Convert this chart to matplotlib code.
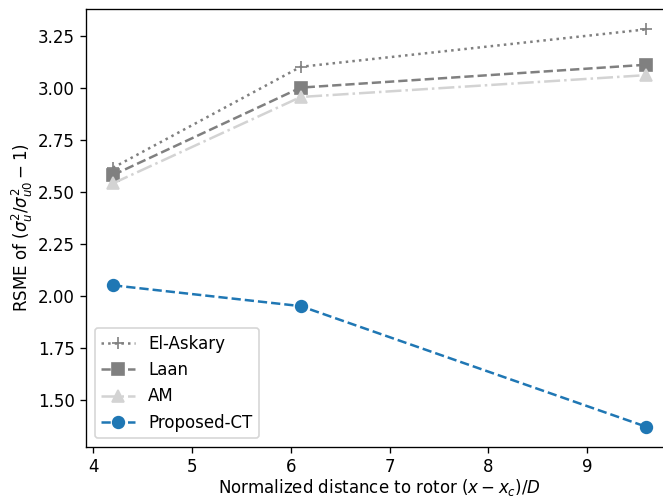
import numpy as np
import matplotlib.pyplot as plt

# downstream positions and RMSE for each turbulence model
dist = [4.2, 6.1, 9.6]
el_askary = [2.615, 3.10, 3.28]
laan = [2.58, 3.00, 3.11]
am = [2.54, 2.955, 3.06]
proposed_ct = [2.05, 1.95, 1.37]

fig = plt.figure(figsize=(663 / 120, 498 / 120), dpi=120)
ax = fig.add_axes([0.1303, 0.103, 0.885, 0.878])

ax.plot(dist, el_askary, ':', marker='+', color='gray', markersize=7, label='El-Askary')
ax.plot(dist, laan, '--', marker='s', color='gray', markersize=7, label='Laan')
ax.plot(dist, am, '-.', marker='^', color='lightgray', markersize=7, label='AM')
ax.plot(dist, proposed_ct, '--', marker='o', color='tab:blue', markersize=7, label='Proposed-CT')

ax.set_xlabel(r'Normalized distance to rotor $(x-x_c)/D$', labelpad=0.5)
ax.set_ylabel(r'RSME of $(\sigma_u^2/\sigma_{u0}^2-1)$', labelpad=1.5)
ax.legend(loc='lower left')

fig.savefig('out.png', dpi=120)
